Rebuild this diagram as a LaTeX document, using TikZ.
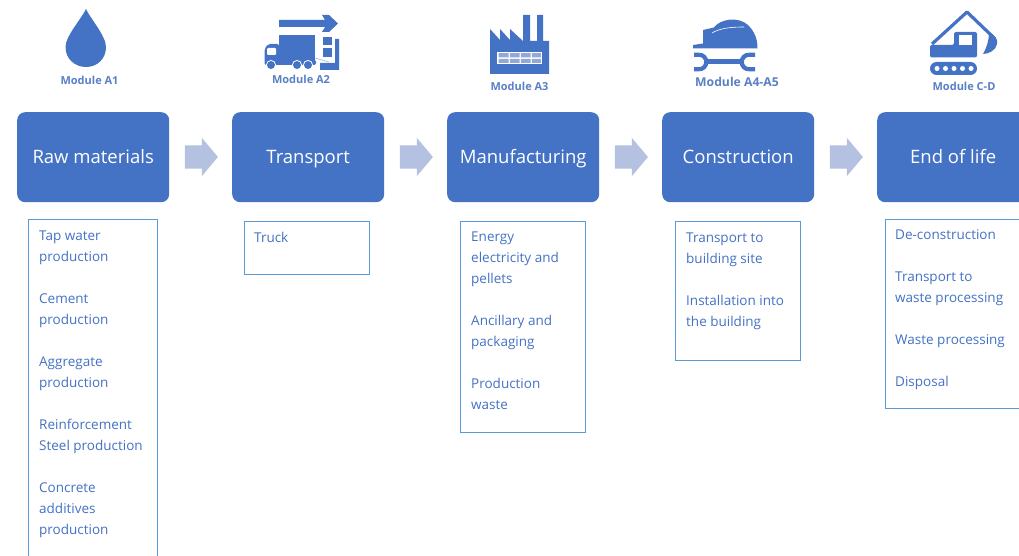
\documentclass[tikz,border=0pt]{standalone}
\usepackage{fontspec}
\setmainfont{Open Sans}
\usetikzlibrary{shapes.arrows}
\definecolor{mainblue}{HTML}{4472C4}
\definecolor{softblue}{HTML}{B4C1E1}
\definecolor{edgeblue}{HTML}{5B9BD5}
\definecolor{labelblue}{HTML}{5A80C6}
\tikzset{
  stage/.style={fill=mainblue,rounded corners=8pt,minimum width=152pt,minimum height=90pt,inner sep=0pt,
     text=white,font=\fontsize{18.5}{22}\selectfont,anchor=north west,text height=17.5pt,text depth=4pt},
  flow/.style={shape=single arrow,fill=softblue,minimum width=38pt,minimum height=33pt,inner sep=0pt,
     text height=23pt,text depth=0pt,text width=1pt,
     single arrow head extend=7.5pt,single arrow tip angle=100},
  listbox/.style={draw=edgeblue,line width=1.1pt,inner sep=0pt,anchor=north west},
  listtext/.style={text=mainblue,anchor=north west,inner sep=0pt,align=left,
     font=\fontsize{13.5}{21}\selectfont},
  modlabel/.style={text=labelblue,inner sep=0pt,font=\fontsize{11}{12}\selectfont\bfseries},
  icon/.style={fill=mainblue,draw=none}
}
\begin{document}
\begin{tikzpicture}[x=1pt,y=-1pt]
\useasboundingbox (0,0) rectangle (1019,556);
\fill[white] (0,0) rectangle (1019,556);
% stages
\node[stage] (s1) at (17,112) {Raw materials};
\node[stage] (s2) at (232,112) {Transport};
\node[stage] (s3) at (447,112) {Manufacturing};
\node[stage] (s4) at (662,112) {Construction};
\begin{scope}
\clip (0,0) rectangle (1019,556);
\node[stage] (s5) at (877,112) {End of life};
% list boxes
\node[listbox,minimum width=129pt,minimum height=345pt] (b1) at (27.5,219) {};
\node[listbox,minimum width=146pt,minimum height=189pt] (b5) at (884.5,219) {};
\end{scope}
\node[listbox,minimum width=125pt,minimum height=53pt] (b2) at (243.5,221) {};
\node[listbox,minimum width=125pt,minimum height=211pt] (b3) at (459.5,221) {};
\node[listbox,minimum width=125pt,minimum height=139pt] (b4) at (674.5,221) {};
% flow arrows
\node[flow] (f1) at (196.5,157) {};
\node[flow] (f2) at (411.5,157) {};
\node[flow] (f3) at (626.5,157) {};
\node[flow] (f4) at (841.5,157) {};
% list texts
\node[listtext] (t1) at (39,231) {Tap water\\production\\[21pt]Cement\\production\\[21pt]Aggregate\\production\\[21pt]Reinforcement\\Steel production\\[21pt]Concrete\\additives\\production};
\node[listtext] (t2) at (254,232) {Truck};
\node[listtext] (t3) at (471,232) {Energy\\electricity and\\pellets\\[21pt]Ancillary and\\packaging\\[21pt]Production\\waste};
\node[listtext] (t4) at (686,233) {Transport to\\building site\\[21pt]Installation into\\the building};
\node[listtext] (t5) at (895,229) {De-construction\\[21pt]Transport to\\waste processing\\[21pt]Waste processing\\[21pt]Disposal};
% module labels
\node[modlabel] (m1) at (89.5,80) {Module A1};
\node[modlabel] (m2) at (301,79) {Module A2};
\node[modlabel] (m3) at (519.5,86) {Module A3};
\node[modlabel,font=\fontsize{12.2}{12}\selectfont\bfseries] (m4) at (737,82) {Module A4-A5};
\node[modlabel] (m5) at (964,86) {Module C-D};
% drop icon
\fill[icon] (86,9) .. controls (82,18) and (65.5,36) .. (65.5,47) .. controls (65.5,59) and (75,67) .. (86,67)
  .. controls (97,67) and (106,59) .. (106,47) .. controls (106,36) and (90,18) .. (86,9) -- cycle;
% truck icon
\fill[icon] (279,20) -- (325,20) -- (322,15) -- (329,15) -- (338,23.5) -- (329,32) -- (322,32) -- (325,27) -- (279,27) -- cycle;
\fill[icon] (279,35) rectangle (315,61);
\fill[icon,rounded corners=2pt] (264.5,65) -- (264.5,49) -- (268,44) -- (279,44) -- (279,60) -- (316,60) -- (316,65) -- cycle;
\fill[white,rounded corners=1pt] (267,48) rectangle (276,55);
\foreach \wx in {271,297,308}{\fill[white] (\wx,65) circle (5);\fill[icon] (\wx,65) circle (4);}
\fill[icon] (323,37) rectangle (332,45.5);
\fill[icon] (323,48) rectangle (332,57);
\fill[icon] (335,39) -- (339,39) -- (339,70) -- (320,70) -- (320,63) -- (335,63) -- cycle;
\draw[softblue,line width=.8pt] (315,58) -- (329,62);
% factory icon
\fill[icon] (490,29) -- (500,40) -- (500,29) -- (510,40) -- (510,29) -- (523,41) -- (523,15) -- (530,15) -- (530,41) -- (537,41) -- (537,15) -- (543,15) -- (543,41) -- (549,41) -- (549,74) -- (490,74) -- cycle;
\fill[white] (497,52) rectangle (542,64);
\fill[softblue!70!mainblue] (498.5,53.2) rectangle (508.5,57.4) (509.8,53.2) rectangle (519.5,57.4) (520.8,53.2) rectangle (530.5,57.4) (531.8,53.2) rectangle (540.8,57.4)
  (498.5,58.8) rectangle (508.5,62.8) (509.8,58.8) rectangle (519.5,62.8) (520.8,58.8) rectangle (530.5,62.8) (531.8,58.8) rectangle (540.8,62.8);
% helmet icon
\fill[icon] (693,48.5) -- (693,45) -- (703,43.5) -- (703,30) -- (714,27.5) .. controls (720,19) and (738,16) .. (748,25) .. controls (754,31) and (757.5,38) .. (757.5,48.5) -- cycle;
\draw[white,line width=.6pt] (712,33) .. controls (720,28) and (732,27) .. (744,27);
% wrench icon
\fill[icon] (706,59) rectangle (742,64.5);
\draw[mainblue,line width=4.2pt] (699,54.7) arc (-90:90:7.3);
\draw[mainblue,line width=4.2pt] (749,54.7) arc (-90:-270:7.3);
\fill[icon] (694,52.6) rectangle (699,56.8) (694,67.2) rectangle (699,71.4) (749,52.6) rectangle (755,56.8) (749,67.2) rectangle (755,71.4);
% excavator icon
\fill[icon,rounded corners=2pt] (930,57.5) -- (930,45) -- (954,45) -- (954,32) -- (977,32) -- (977,57.5) -- cycle;
\fill[white] (958.5,35) rectangle (972,45);
\draw[mainblue,line width=3.2pt,line join=round] (932,44) -- (967,12) -- (992,36);
\fill[icon] (989,32) .. controls (995,35) and (998,39) .. (997,44) .. controls (996,50) and (989,54) .. (983,54) .. controls (987,47) and (989,40) .. (989,32) -- cycle;
\fill[icon,rounded corners=6.5pt] (930,62) rectangle (977,75);
\foreach \dx in {937,945.5,954,962.5,971}{\fill[white] (\dx,68.5) circle (2.5);}
\end{tikzpicture}
\end{document}
